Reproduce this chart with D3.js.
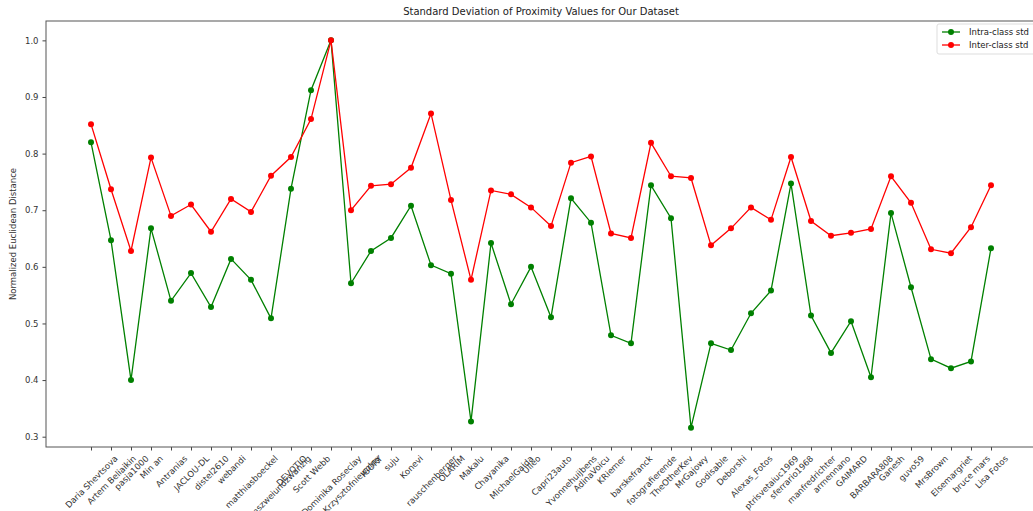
<!DOCTYPE html>
<html>
<head>
<meta charset="utf-8">
<script src="https://cdn.jsdelivr.net/npm/d3@7"></script>
<style>
  body { margin: 0; background: #fff; }
  svg { font-family: "DejaVu Sans", sans-serif; }
  .tick text { fill: #333; }
</style>
</head>
<body>
<div id="chart"></div>
<script>
// Photographers (x categories)
const photographers = [
  "Daria Shevtsova", "Artem Beliaikin", "pasja1000", "Min an", "Antranias",
  "JACLOU-DL", "distel2610", "webandi", "matthiasboeckel", "lennieinszweiundzwanzig",
  "DEVOTIO", "Scott Webb", "Dominika Roseclay", "Krzysztofniewolny", "IGORY",
  "suju", "Konevi", "rauschenberger", "OLARIM", "Makalu",
  "Chayanika", "MichaelGaida", "Ulleo", "Capri23auto", "Yvonnehuijbens",
  "AdinaVoicu", "KRiemer", "barskefranck", "fotografierende", "TheOtherKev",
  "MrGajowy", "Godisable", "Deborshi", "Alexas_Fotos", "ptrisvetaiuc1969",
  "sferrario1968", "manfredrichter", "armennano", "GAIMARD", "BARBARA808",
  "Ganesh", "guvo59", "MrsBrown", "Elsemargriet", "bruce mars", "Lisa Fotos"
]

// Intra-class standard deviation (green)
const intraStd = [
  0.820, 0.647, 0.400, 0.668, 0.540, 0.589, 0.529, 0.614, 0.577, 0.509,
  0.738, 0.912, 1.000, 0.571, 0.628, 0.651, 0.708, 0.603, 0.588, 0.327,
  0.642, 0.534, 0.600, 0.511, 0.721, 0.678, 0.479, 0.465, 0.744, 0.686,
  0.316, 0.465, 0.453, 0.518, 0.558, 0.747, 0.514, 0.448, 0.504, 0.405,
  0.695, 0.564, 0.437, 0.421, 0.433, 0.633
]

// Inter-class standard deviation (red)
const interStd = [
  0.852, 0.737, 0.628, 0.793, 0.690, 0.710, 0.662, 0.720, 0.697, 0.761,
  0.794, 0.861, 1.000, 0.700, 0.743, 0.746, 0.775, 0.871, 0.718, 0.577,
  0.735, 0.728, 0.705, 0.672, 0.784, 0.795, 0.659, 0.651, 0.819, 0.760,
  0.757, 0.638, 0.668, 0.705, 0.683, 0.794, 0.681, 0.655, 0.660, 0.667,
  0.760, 0.713, 0.631, 0.624, 0.670, 0.744
]

const yTicks = [0.3, 0.4, 0.5, 0.6, 0.7, 0.8, 0.9, 1.0]

const seriesList = [
  { name: "Intra-class std", color: "green", values: intraStd },
  { name: "Inter-class std", color: "red", values: interStd }
]

const dimensions = {
  width: 1033,
  height: 511,
  margin: { top: 21, right: -3, bottom: 64, left: 46 }
}
dimensions.boundedWidth = dimensions.width - dimensions.margin.left - dimensions.margin.right
dimensions.boundedHeight = dimensions.height - dimensions.margin.top - dimensions.margin.bottom

// Scales: matplotlib-like 5% padding on both axes
const xScale = d3.scalePoint()
  .domain(photographers)
  .range([0, dimensions.boundedWidth])
  .padding(2.25)

const allValues = intraStd.concat(interStd)
const yMin = d3.min(allValues), yMax = d3.max(allValues)
const yPad = (yMax - yMin) * 0.05
const yScale = d3.scaleLinear()
  .domain([yMin - yPad, yMax + yPad])
  .range([dimensions.boundedHeight, 0])

const svg = d3.select("#chart").append("svg")
  .attr("width", dimensions.width)
  .attr("height", dimensions.height)

const bounds = svg.append("g")
  .attr("transform", `translate(${dimensions.margin.left},${dimensions.margin.top})`)

// Title
svg.append("text")
  .attr("x", dimensions.margin.left + dimensions.boundedWidth / 2)
  .attr("y", 15)
  .attr("text-anchor", "middle")
  .attr("font-size", 10)
  .attr("fill", "#222")
  .text("Standard Deviation of Proximity Values for Our Dataset")

// Y axis
const yAxis = bounds.append("g")
  .call(d3.axisLeft(yScale).tickValues(yTicks).tickFormat(d3.format(".1f")).tickSize(3.5).tickPadding(4))
yAxis.select(".domain").remove()
yAxis.selectAll(".tick line").attr("stroke", "#444")
yAxis.selectAll(".tick text").attr("font-size", 8.5).attr("font-family", "DejaVu Sans")

// X axis with 45 degree labels, centred on the tick like matplotlib
const xAxis = bounds.append("g")
  .attr("transform", `translate(0,${dimensions.boundedHeight})`)
  .call(d3.axisBottom(xScale).tickSize(3.5))
xAxis.select(".domain").remove()
xAxis.selectAll(".tick line").attr("stroke", "#444")
xAxis.selectAll(".tick text")
  .attr("font-size", 8.5)
  .attr("font-family", "DejaVu Sans")
  .attr("text-anchor", "middle")
  .attr("dominant-baseline", "central")
  .attr("y", null)
  .attr("dy", null)
  .each(function () {
    const w = this.getComputedTextLength()
    const half = (w + 8.5) * Math.SQRT1_2 / 2
    d3.select(this).attr("transform", `translate(0,${7 + half}) rotate(-45)`)
  })

// Y axis label
svg.append("text")
  .attr("transform", `translate(16,${dimensions.margin.top + dimensions.boundedHeight / 2}) rotate(-90)`)
  .attr("text-anchor", "middle")
  .attr("font-size", 8.5)
  .attr("fill", "#333")
  .text("Normalized Euclidean Distance")

// Lines and markers
const lineGenerator = d3.line()
  .x((d, i) => xScale(photographers[i]))
  .y(d => yScale(d))

seriesList.forEach(series => {
  bounds.append("path")
    .attr("d", lineGenerator(series.values))
    .attr("fill", "none")
    .attr("stroke", series.color)
    .attr("stroke-width", 1.3)

  bounds.append("g")
    .selectAll("circle")
    .data(series.values)
    .join("circle")
      .attr("cx", (d, i) => xScale(photographers[i]))
      .attr("cy", d => yScale(d))
      .attr("r", 3)
      .attr("fill", series.color)
})

// Frame
bounds.append("rect")
  .attr("width", dimensions.boundedWidth)
  .attr("height", dimensions.boundedHeight)
  .attr("fill", "none")
  .attr("stroke", "#555")
  .attr("stroke-width", 1)

// Legend
const legend = svg.append("g")
  .attr("transform", "translate(937,24)")
legend.append("rect")
  .attr("width", 100)
  .attr("height", 30)
  .attr("rx", 2)
  .attr("fill", "#fff")
  .attr("stroke", "#ddd")

const legendItems = legend.selectAll("g")
  .data(seriesList)
  .join("g")
    .attr("transform", (d, i) => `translate(5,${8 + i * 13})`)
legendItems.append("line")
  .attr("x1", 0).attr("x2", 18)
  .attr("stroke", d => d.color)
  .attr("stroke-width", 1.3)
legendItems.append("circle")
  .attr("cx", 9)
  .attr("r", 3)
  .attr("fill", d => d.color)
legendItems.append("text")
  .attr("x", 27)
  .attr("dy", "0.35em")
  .attr("font-size", 8.5)
  .attr("fill", "#222")
  .text(d => d.name)
</script>
</body>
</html>
